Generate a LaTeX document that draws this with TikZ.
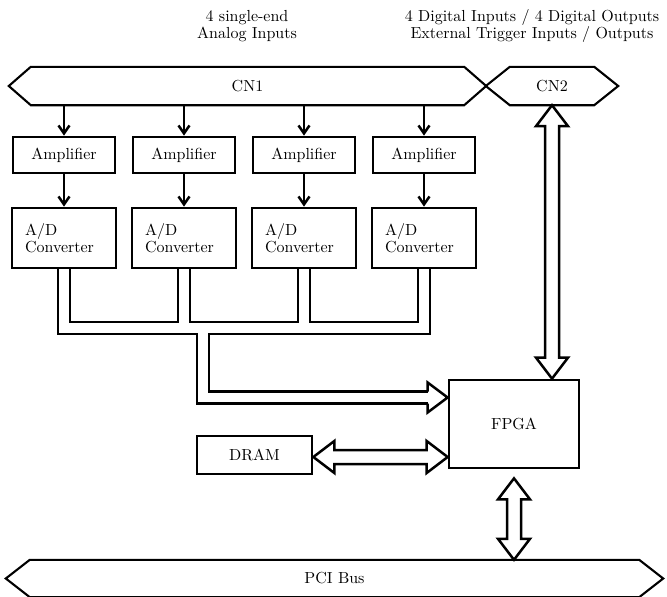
\documentclass[tikz,border=0pt]{standalone}
\usepackage{fontspec}
\setmainfont{lmroman10-regular.otf}
\usetikzlibrary{calc,arrows.meta}

% connector strip drawn round a node
\newcommand{\hexa}[2]{%
  \draw[hexline](#1.west)--([xshift=#2]#1.north west)--([xshift=-#2]#1.north east)--(#1.east)--([xshift=-#2]#1.south east)--([xshift=#2]#1.south west)--cycle;}
% hollow arrow with a head at both ends
\newcommand{\fatboth}[2]{%
  \draw[fat](#1)--($(#1)!21pt!(#2)!16pt!90:(#2)$)--($(#1)!21pt!(#2)!7pt!90:(#2)$)
    --($(#2)!21pt!(#1)!7pt!-90:(#1)$)--($(#2)!21pt!(#1)!16pt!-90:(#1)$)--(#2)
    --($(#2)!21pt!(#1)!16pt!90:(#1)$)--($(#2)!21pt!(#1)!7pt!90:(#1)$)
    --($(#1)!21pt!(#2)!7pt!-90:(#2)$)--($(#1)!21pt!(#2)!16pt!-90:(#2)$)--cycle;}

\tikzset{
  box/.style={draw,line width=2.7pt,fill=white,inner sep=0pt,minimum width=102pt,minimum height=36pt},
  adcbox/.style={box,minimum width=104pt,minimum height=60pt,text width=78pt,align=left},
  strip/.style={inner sep=0pt},
  hexline/.style={line width=2.1pt,line join=miter},
  sig/.style={line width=2.5pt,-{Straight Barb[length=8pt,width=11pt,line width=2.5pt]}},
  fat/.style={line width=2.5pt,fill=white,line join=miter},
  bus/.style={line width=2.5pt,double,double distance=9.5pt,line join=miter}
}

\begin{document}
\begin{tikzpicture}[x=1pt,y=-1pt,font=\fontsize{16}{17}\selectfont]
  \useasboundingbox(0,0)rectangle(667,597);

  \node[align=center](ain) at (247,26){4 single-end\\Analog Inputs};
  \node[align=center](dio) at (532,26){4 Digital Inputs / 4 Digital Outputs\\External Trigger Inputs / Outputs};

  \node[strip,minimum width=477pt,minimum height=38pt](cn1) at (247.5,86){CN1};
  \node[strip,minimum width=132pt,minimum height=38pt](cn2) at (552,86){CN2};
  \node[strip,minimum width=657pt,minimum height=37pt](pci) at (334.5,578.5){PCI Bus};
  \hexa{cn1}{22}
  \hexa{cn2}{24}
  \hexa{pci}{24}

  \foreach \i/\x in {1/64,2/184,3/304,4/424}{
    \node[box](amp\i) at (\x,155){Amplifier};
    \node[adcbox](adc\i) at (\x,238){A/D\\Converter};
    \draw[sig](amp\i.north |- cn1.south)--(amp\i.north);
    \draw[sig](amp\i)--(adc\i);
  }

  \node[box,minimum width=130pt,minimum height=88pt](fpga) at (514,424){FPGA};
  \node[box,minimum width=115pt,minimum height=38pt](dram) at (254.5,455){DRAM};

  % data bus from the converters
  \coordinate(busy) at (0,328);
  \coordinate(drop) at (203,328);
  \coordinate(bin) at (fpga.west |- 0,397.5);
  \draw[bus](adc1.south)|-(adc4.south |- busy)--(adc4.south)
    (adc2.south)--(adc2.south |- busy)
    (adc3.south)--(adc3.south |- busy)
    (drop)|-($(bin)+(-20,0)$);
  \draw[fat,fill=none]($(bin)+(-20,-6)$)--($(bin)+(-20,-15)$)--(bin)--($(bin)+(-20,15)$)--($(bin)+(-20,6)$);

  \coordinate(fpgab) at ($(fpga.south)+(0,9)$);
  \coordinate(drama) at ($(dram.east)+(0,2)$);
  \fatboth{cn2.south}{cn2.south |- fpga.north}
  \fatboth{drama}{drama -| fpga.west}
  \fatboth{fpgab}{fpga.south |- pci.north}
\end{tikzpicture}
\end{document}
